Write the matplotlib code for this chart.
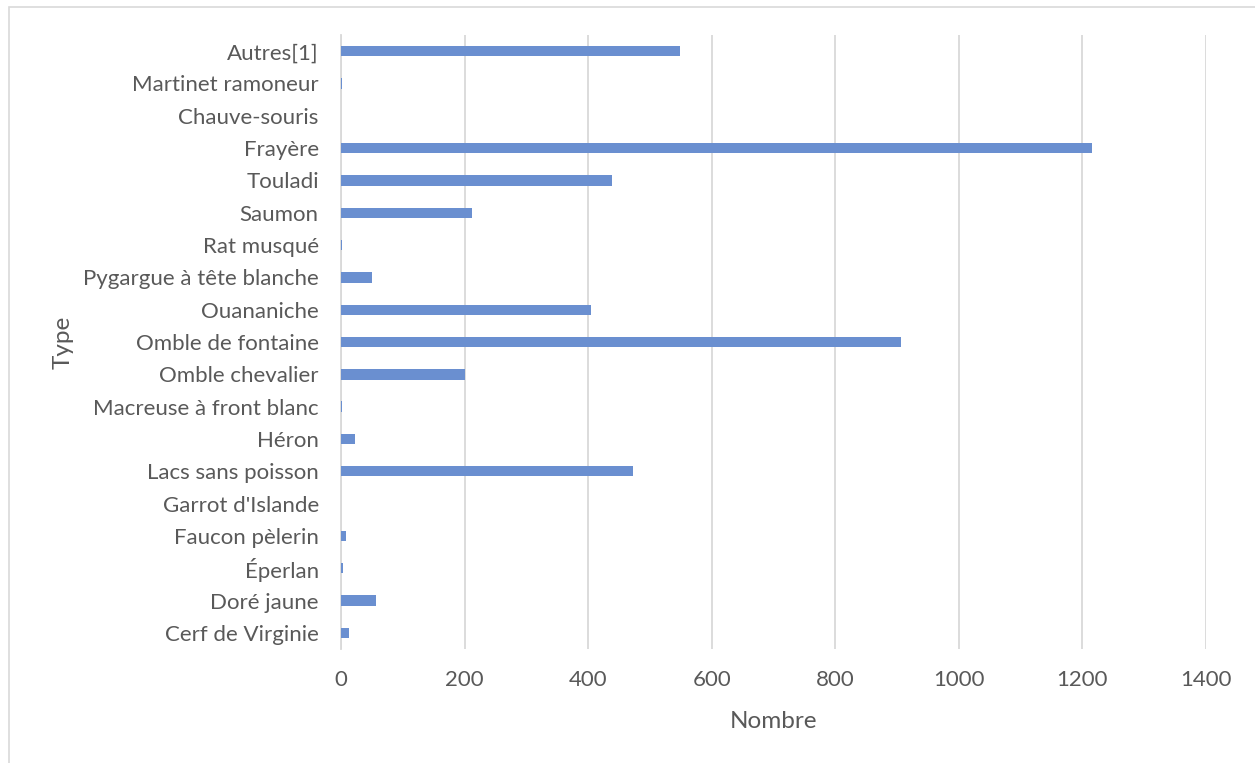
import matplotlib.pyplot as plt
from matplotlib.patches import Rectangle

plt.rcParams['font.family'] = ['Lato', 'DejaVu Sans']

# categories from bottom to top
types = ["Cerf de Virginie", "Doré jaune", "Éperlan", "Faucon pèlerin",
         "Garrot d'Islande", "Lacs sans poisson", "Héron",
         "Macreuse à front blanc", "Omble chevalier", "Omble de fontaine",
         "Ouananiche", "Pygargue à tête blanche", "Rat musqué", "Saumon",
         "Touladi", "Frayère", "Chauve-souris", "Martinet ramoneur", "Autres[1]"]
nombre = [13, 56, 3, 8, 0, 473, 22, 2, 201, 907, 405, 51, 2, 212, 439, 1216, 0, 1, 548]
xticks = [0, 200, 400, 600, 800, 1000, 1200, 1400]

txt = '#595959'
fig = plt.figure(figsize=(12.55, 7.63), dpi=100)
ax = fig.add_axes([0.2717, 0.1494, 0.6892, 0.8047])

ax.barh(range(len(types)), nombre, height=0.32, color='#6a8fd0', zorder=3)
ax.set_yticks(range(len(types)))
ax.set_yticklabels(types)
ax.set_ylim(-0.5, len(types) - 0.5)
ax.set_xlim(0, 1400)
ax.set_xticks(xticks)
ax.xaxis.grid(True, color='#d9d9d9', linewidth=1.3, zorder=0)
ax.tick_params(axis='both', length=0, labelsize=16, colors=txt)
ax.tick_params(axis='y', pad=16)
ax.tick_params(axis='x', pad=15)
for s in ['top', 'right', 'bottom']:
    ax.spines[s].set_visible(False)
ax.spines['left'].set_color('#d9d9d9')
ax.spines['left'].set_linewidth(1.3)

ax.set_xlabel("Nombre", fontsize=17.5, color=txt, labelpad=15)
ax.set_ylabel("Type", fontsize=17.5, color=txt, labelpad=7)

fig.patches.append(Rectangle((9 / 1255, -0.1), 1.2, 1 - 7 / 763 + 0.1,
                             transform=fig.transFigure, fill=False,
                             edgecolor='#d9d9d9', linewidth=1.2))

fig.savefig("out.png", dpi=100)
